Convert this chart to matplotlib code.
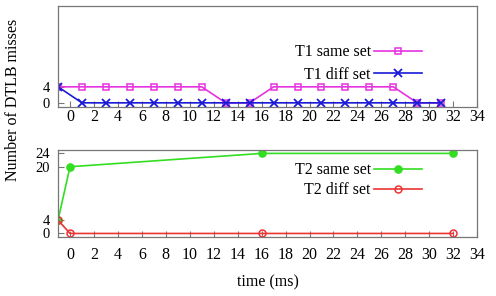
import matplotlib
matplotlib.use("Agg")
import matplotlib.pyplot as plt

plt.rcParams['font.family'] = ['Liberation Serif', 'DejaVu Serif']
plt.rcParams['font.size'] = 11.5

# Data
t1_x = [-1, 1, 3, 5, 7, 9, 11, 13, 15, 17, 19, 21, 23, 25, 27, 29, 31]
t1_same = [4, 4, 4, 4, 4, 4, 4, 0, 0, 4, 4, 4, 4, 4, 4, 0, 0]
t1_diff = [4, 0, 0, 0, 0, 0, 0, 0, 0, 0, 0, 0, 0, 0, 0, 0, 0]
t2_x = [-1, 0, 16, 32]
t2_same = [4, 20, 24, 24]
t2_diff = [4, 0, 0, 0]
xticks = list(range(0, 35, 2))
top_yticks = [0, 4]
bot_yticks = [0, 4, 20, 24]

fig = plt.figure(figsize=(4.96, 2.96), dpi=100)
ax1 = fig.add_axes([0.117, 0.639, 0.845, 0.341])
ax2 = fig.add_axes([0.117, 0.200, 0.845, 0.293])

frame = '#777777'
for ax in (ax1, ax2):
    for s in ax.spines.values():
        s.set_color(frame)
        s.set_linewidth(0.9)
    ax.set_xlim(-1, 34)
    ax.set_xticks(xticks)
    ax.tick_params(direction='in', length=4, color=frame, width=0.8,
                   top=False, right=False, labelsize=11.5)
    ax.tick_params(axis='y', pad=6)

ax1.tick_params(axis='x', pad=1.5)
ax2.tick_params(axis='x', pad=7)
ax1.tick_params(axis='y', labelsize=10.5)
ax2.tick_params(axis='y', labelsize=10.5)

ax1.set_ylim(-1, 24.2)
ax1.set_yticks(top_yticks)
ax2.set_ylim(-1, 25)
ax2.set_yticks(bot_yticks)

ax1.plot(t1_x, t1_same, color='#e633e0', lw=1.2, marker='s', ms=5,
         mfc='none', mew=1.1, label='T1 same set')
ax1.plot(t1_x, t1_diff, color='#1a1ad6', lw=1.2, marker='x', ms=5.5,
         mew=1.3, label='T1 diff set')
ax2.plot(t2_x, t2_same, color='#33dd22', lw=1.2, marker='o', ms=5.2,
         label='T2 same set')
ax2.plot(t2_x, t2_diff, color='#ee3333', lw=1.2, marker='o', ms=5,
         mfc='none', mew=1.1, label='T2 diff set')

leg_kw = dict(frameon=False, markerfirst=False, borderpad=0, borderaxespad=0,
              handlelength=3.0, handletextpad=0.2, fontsize=11.5)
ax1.legend(loc='upper right', bbox_to_anchor=(0.868, 0.62),
           labelspacing=0.4, **leg_kw)
ax2.legend(loc='upper right', bbox_to_anchor=(0.868, 0.86),
           labelspacing=0.25, **leg_kw)

fig.text(0.026, 0.662, 'Number of DTLB misses', rotation=90,
         ha='center', va='center', fontsize=11.5)
fig.text(0.54, 0.047, 'time (ms)', ha='center', va='center', fontsize=11.5)

fig.savefig('out.png', dpi=100)
